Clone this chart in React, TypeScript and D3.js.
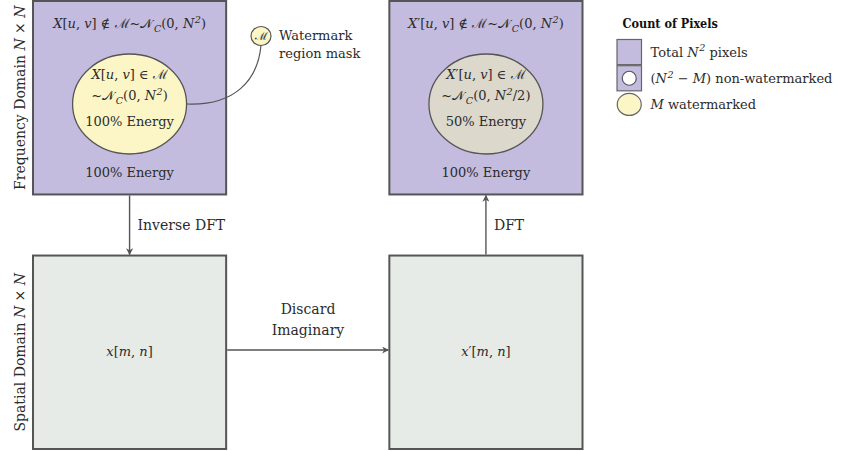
import * as d3 from "d3";

type Seg = { t: string; s?: "i" | "sub" | "sup" };

const columns = ["original", "reconstructed"];
const rows = ["frequency", "spatial"];
const rowLabels: Seg[][] = [
  [{ t: "Frequency Domain " }, { t: "N", s: "i" }, { t: " × " }, { t: "N", s: "i" }],
  [{ t: "Spatial Domain " }, { t: "N", s: "i" }, { t: " × " }, { t: "N", s: "i" }],
];

const outerLabels: Seg[][] = [
  [{ t: "X", s: "i" }, { t: "[" }, { t: "u", s: "i" }, { t: ", " }, { t: "v", s: "i" }, { t: "] ∉ " },
   { t: "ℳ" }, { t: "~" }, { t: "𝒩" }, { t: "C", s: "sub" }, { t: "(0, " }, { t: "N", s: "i" }, { t: "2", s: "sup" }, { t: ")" }],
  [{ t: "X", s: "i" }, { t: "′[" }, { t: "u", s: "i" }, { t: ", " }, { t: "v", s: "i" }, { t: "] ∉ " },
   { t: "ℳ" }, { t: "~" }, { t: "𝒩" }, { t: "C", s: "sub" }, { t: "(0, " }, { t: "N", s: "i" }, { t: "2", s: "sup" }, { t: ")" }],
];
const innerHeads: Seg[][] = [
  [{ t: "X", s: "i" }, { t: "[" }, { t: "u", s: "i" }, { t: ", " }, { t: "v", s: "i" }, { t: "] ∈ " }, { t: "ℳ" }],
  [{ t: "X", s: "i" }, { t: "′[" }, { t: "u", s: "i" }, { t: ", " }, { t: "v", s: "i" }, { t: "] ∈ " }, { t: "ℳ" }],
];
const innerDists: Seg[][] = [
  [{ t: "~" }, { t: "𝒩" }, { t: "C", s: "sub" }, { t: "(0, " }, { t: "N", s: "i" }, { t: "2", s: "sup" }, { t: ")" }],
  [{ t: "~" }, { t: "𝒩" }, { t: "C", s: "sub" }, { t: "(0, " }, { t: "N", s: "i" }, { t: "2", s: "sup" }, { t: "/2)" }],
];
const innerEnergy = ["100% Energy", "50% Energy"];
const outerEnergy = ["100% Energy", "100% Energy"];
const ellipseFills = ["#fcf6c6", "#dcd8cc"];
const spatialLabels: Seg[][] = [
  [{ t: "x", s: "i" }, { t: "[" }, { t: "m", s: "i" }, { t: ", " }, { t: "n", s: "i" }, { t: "]" }],
  [{ t: "x", s: "i" }, { t: "′[" }, { t: "m", s: "i" }, { t: ", " }, { t: "n", s: "i" }, { t: "]" }],
];

const arrowLabels = ["Inverse DFT", "DFT"];
const discardLabel = ["Discard", "Imaginary"];
const maskLabel = ["Watermark", "region mask"];

const legendTitle = "Count of Pixels";
const legendItems: { kind: string; label: Seg[] }[] = [
  { kind: "square", label: [{ t: "Total " }, { t: "N", s: "i" }, { t: "2", s: "sup" }, { t: " pixels" }] },
  { kind: "squareHole", label: [{ t: "(" }, { t: "N", s: "i" }, { t: "2", s: "sup" }, { t: " − " }, { t: "M", s: "i" }, { t: ") non-watermarked" }] },
  { kind: "circle", label: [{ t: "M", s: "i" }, { t: " watermarked" }] },
];

const W = 841;
const H = 451;
const PURPLE = "#c4bcde";
const SPATIAL = "#e6ebe8";
const STROKE = "#555555";
const TEXT = "#2b2b2b";
const FONT = "'DejaVu Serif', serif";

function MathText(props: { x: number; y: number; size: number; segs: Seg[]; anchor?: string; transform?: string }) {
  const { x, y, size, segs, anchor = "middle", transform } = props;
  let shift = 0;
  return (
    <text x={x} y={y} fontSize={size} textAnchor={anchor} fill={TEXT} fontFamily={FONT} transform={transform}>
      {segs.map((sg, i) => {
        let target = 0;
        if (sg.s === "sub") target = size * 0.28;
        if (sg.s === "sup") target = -size * 0.4;
        const dy = target - shift;
        shift = target;
        const small = sg.s === "sub" || sg.s === "sup";
        return (
          <tspan key={i} dy={dy || undefined} dx={sg.s === "sub" ? 1.5 : sg.s === "sup" ? 0.5 : undefined}
            fontStyle={sg.s ? "italic" : "normal"} fontSize={small ? size * 0.74 : size}>
            {sg.t}
          </tspan>
        );
      })}
    </text>
  );
}

export default function App() {
  const x = d3.scaleBand().domain(columns).range([33, 582.5]).paddingInner(0.458);
  const y = d3.scaleBand().domain(rows).range([1, 449]).paddingInner(0.24);
  const bw = x.bandwidth();
  const bh = y.bandwidth();
  const cx = (c: string) => (x(c) as number) + bw / 2;
  const top = (r: string) => y(r) as number;
  const ellY = top("frequency") + 103;

  const mask = { x: 261, y: 36 };
  const leftEllipseRight = cx(columns[0]) + 57;
  const curve = d3.path();
  curve.moveTo(leftEllipseRight, ellY);
  curve.bezierCurveTo(235, ellY + 2, 258, 80, mask.x, mask.y + 9);

  const lx = 617;
  const legendY = d3.scaleBand().domain(legendItems.map((d) => d.kind)).range([39.5, 117]).paddingInner(0.04);

  const freqBottom = top("frequency") + bh;
  const spatialTop = top("spatial");
  const midSpatial = spatialTop + bh / 2;

  return (
    <svg width={W} height={H} style={{ position: "absolute", left: 0, top: 0, background: "#fff" }}>
      <defs>
        <marker id="ah" viewBox="0 0 10 10" refX="9" refY="5" markerWidth="7" markerHeight="7" orient="auto-start-reverse" markerUnits="userSpaceOnUse">
          <path d="M0,0 L10,5 L0,10 L3,5 Z" fill={STROKE} />
        </marker>
      </defs>

      {/* row labels */}
      {rows.map((r, i) => (
        <MathText key={r} x={0} y={0} size={14} segs={rowLabels[i]}
          transform={`translate(25,${top(r) + bh / 2}) rotate(-90)`} />
      ))}

      {/* frequency domain boxes */}
      {columns.map((c, i) => (
        <g key={c}>
          <rect x={x(c)} y={top("frequency")} width={bw} height={bh} fill={PURPLE} stroke={STROKE} strokeWidth={2} />
          <MathText x={cx(c)} y={top("frequency") + 27} size={13} segs={outerLabels[i]} />
          <ellipse cx={cx(c)} cy={ellY} rx={57} ry={50} fill={ellipseFills[i]} stroke={STROKE} strokeWidth={1.3} />
          <MathText x={cx(c)} y={ellY - 25} size={13} segs={innerHeads[i]} />
          <MathText x={cx(c)} y={ellY - 4} size={13} segs={innerDists[i]} />
          <text x={cx(c)} y={ellY + 22} fontSize={13} textAnchor="middle" fill={TEXT} fontFamily={FONT}>{innerEnergy[i]}</text>
          <text x={cx(c)} y={top("frequency") + 176} fontSize={13} textAnchor="middle" fill={TEXT} fontFamily={FONT}>{outerEnergy[i]}</text>
        </g>
      ))}

      {/* spatial domain boxes */}
      {columns.map((c, i) => (
        <g key={c + "s"}>
          <rect x={x(c)} y={spatialTop} width={bw} height={bh} fill={SPATIAL} stroke={STROKE} strokeWidth={2} />
          <MathText x={cx(c)} y={midSpatial + 4} size={13} segs={spatialLabels[i]} />
        </g>
      ))}

      {/* watermark mask callout */}
      <path d={curve.toString()} fill="none" stroke={STROKE} strokeWidth={1.2} />
      <ellipse cx={mask.x} cy={mask.y} rx={10} ry={9.5} fill={ellipseFills[0]} stroke={STROKE} strokeWidth={1.2} />
      <text x={mask.x} y={mask.y + 4} fontSize={11} textAnchor="middle" fill={TEXT} fontFamily={FONT}>ℳ</text>
      {maskLabel.map((t, i) => (
        <text key={t} x={279} y={40 + i * 17.5} fontSize={13} fill={TEXT} fontFamily={FONT}>{t}</text>
      ))}

      {/* arrows */}
      <line x1={cx(columns[0])} y1={freqBottom + 1} x2={cx(columns[0])} y2={spatialTop - 1} stroke={STROKE} strokeWidth={1.4} markerEnd="url(#ah)" />
      <text x={cx(columns[0]) + 8} y={230} fontSize={14} fill={TEXT} fontFamily={FONT}>{arrowLabels[0]}</text>
      <line x1={cx(columns[1])} y1={spatialTop - 1} x2={cx(columns[1])} y2={freqBottom + 1} stroke={STROKE} strokeWidth={1.4} markerEnd="url(#ah)" />
      <text x={cx(columns[1]) + 8} y={230} fontSize={14} fill={TEXT} fontFamily={FONT}>{arrowLabels[1]}</text>
      <line x1={(x(columns[0]) as number) + bw + 1} y1={350} x2={(x(columns[1]) as number) - 1} y2={350} stroke={STROKE} strokeWidth={1.4} markerEnd="url(#ah)" />
      {discardLabel.map((t, i) => (
        <text key={t} x={308} y={314 + i * 20.5} fontSize={14} textAnchor="middle" fill={TEXT} fontFamily={FONT}>{t}</text>
      ))}

      {/* legend */}
      <text x={622.5} y={28} fontSize={12.5} fontWeight="bold" fill="#111" fontFamily="'DejaVu Serif Condensed', 'DejaVu Serif', serif">{legendTitle}</text>
      {legendItems.map((d) => {
        const y0 = legendY(d.kind) as number;
        const h = legendY.bandwidth();
        const my = y0 + h / 2;
        return (
          <g key={d.kind}>
            {d.kind !== "circle" && (
              <rect x={lx} y={y0} width={24.5} height={h} fill={PURPLE} stroke="#666" strokeWidth={1.2} />
            )}
            {d.kind === "squareHole" && (
              <circle cx={lx + 12.25} cy={my} r={7} fill="#fff" stroke={STROKE} strokeWidth={1.2} />
            )}
            {d.kind === "circle" && (
              <ellipse cx={lx + 12.25} cy={my} rx={12} ry={11} fill={ellipseFills[0]} stroke="#666" strokeWidth={1.2} />
            )}
            <MathText x={650.5} y={my + 4.5} size={13} anchor="start" segs={d.label} />
          </g>
        );
      })}
    </svg>
  );
}
